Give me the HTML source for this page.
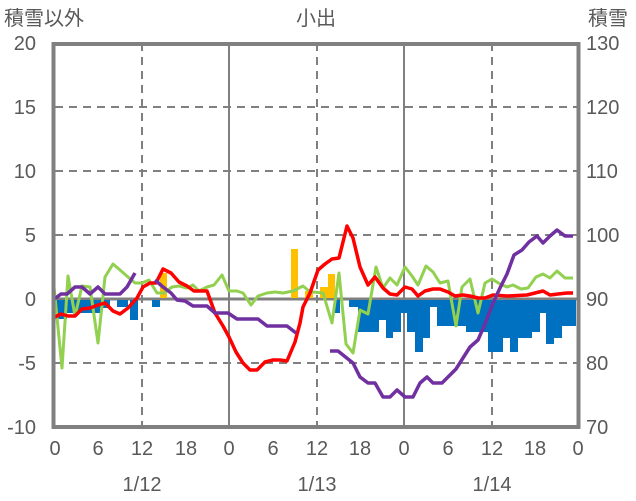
<!DOCTYPE html>
<html><head><meta charset="utf-8"><style>
body{margin:0;background:#fff}
svg{display:block}
text{font-family:"Liberation Sans","Noto Sans CJK JP",sans-serif;font-size:20px;fill:#595959}
</style></head><body>
<svg width="636" height="501" viewBox="0 0 636 501">
<g stroke="#808080" stroke-width="2" stroke-dasharray="8,6">
<line x1="55" y1="107" x2="578" y2="107"/><line x1="55" y1="171" x2="578" y2="171"/>
<line x1="55" y1="235" x2="578" y2="235"/><line x1="55" y1="363" x2="578" y2="363"/>
<line x1="142" y1="43" x2="142" y2="427"/><line x1="317" y1="43" x2="317" y2="427"/><line x1="492" y1="43" x2="492" y2="427"/>
</g>
<g stroke="#808080" stroke-width="2">
<line x1="229" y1="43" x2="229" y2="427"/><line x1="404" y1="43" x2="404" y2="427"/>
</g>
<line x1="55" y1="299" x2="578" y2="299" stroke="#808080" stroke-width="3"/>
<g fill="#0070C0">
<rect x="55" y="300" width="45" height="13"/><rect x="55" y="300" width="12" height="19"/><rect x="100" y="300" width="10" height="8"/>
<rect x="117" y="300" width="11" height="7"/><rect x="130" y="300" width="8" height="20"/><rect x="152" y="300" width="8" height="7"/>
<rect x="335" y="300" width="5" height="13"/><rect x="349" y="300" width="9" height="7"/><rect x="358" y="300" width="21" height="32"/>
<rect x="379" y="300" width="7" height="20"/><rect x="386" y="300" width="7" height="38"/><rect x="393" y="300" width="8" height="32"/>
<rect x="401" y="300" width="6" height="13"/><rect x="407" y="300" width="8" height="32"/><rect x="415" y="300" width="8" height="52"/>
<rect x="423" y="300" width="7" height="38"/><rect x="430" y="300" width="7" height="7"/><rect x="437" y="300" width="29" height="26"/>
<rect x="466" y="300" width="22" height="32"/><rect x="488" y="300" width="15" height="52"/><rect x="503" y="300" width="7" height="38"/>
<rect x="510" y="300" width="8" height="52"/><rect x="518" y="300" width="14" height="38"/><rect x="532" y="300" width="8" height="32"/>
<rect x="540" y="300" width="6" height="13"/><rect x="546" y="300" width="8" height="44"/><rect x="554" y="300" width="8" height="38"/>
<rect x="562" y="300" width="14" height="26"/>
</g>
<g fill="#FFC000">
<rect x="160" y="273" width="7" height="25"/><rect x="291" y="249" width="7" height="49"/><rect x="305" y="291" width="8" height="7"/>
<rect x="320" y="287" width="8" height="11"/><rect x="328" y="274" width="7" height="24"/>
</g>
<g fill="none" stroke-width="3.5" stroke-linejoin="round">
<polyline stroke="#92D050" stroke-width="3" points="53,277 62,368 68,276 75,316 82,286 90,287 98,343 105,277 113,264 120,270 128,277 135,283 142,283 149,280 157,293 164,293 172,287 179,286 187,288 193,285 199,291 207,287 214,285 222,275 229,291 237,291 243,293 251,305 258,296 267,293 275,292 283,293 293,291 303,286 309,291 313,292 323,293 332,323 339,273 346,344 353,353 360,310 368,314 376,267 383,288 390,278 397,285 405,267 412,276 418,285 426,266 433,272 440,283 448,281 456,326 462,287 470,279 478,313 485,283 492,279 500,284 507,287 513,285 521,289 528,288 536,277 543,274 550,278 557,271 565,278 573,278"/>
<polyline stroke="#FF0000" points="53,318 61,314 68,316 75,316 82,309 90,308 98,305 105,303 113,311 120,314 128,308 137,298 143,287 150,283 156,283 163,269 171,273 179,282 187,286 194,291 201,291 207,291 215,313 223,326 229,337 236,352 243,363 250,370 257,370 265,362 273,360 280,360 287,361 295,342 300,323 303,307 310,293 318,270 325,264 332,259 339,258 347,226 353,238 360,267 368,285 375,277 383,288 390,294 397,295 405,287 412,289 418,296 425,291 433,289 440,289 448,292 455,296 463,295 470,296 478,298 485,298 493,295 507,296 527,295 535,293 543,291 550,295 558,294 567,293 573,293"/>
<polyline stroke="#7030A0" points="53,300 61,294 67,294 75,287 82,287 90,294 98,287 105,294 120,294 127,287 135,273"/>
<polyline stroke="#7030A0" points="155,280 163,287 171,293 177,300 185,301 193,306 207,306 215,313 228,313 237,319 258,319 267,326 287,326 296,333"/>
<polyline stroke="#7030A0" points="330,351 338,351 353,363 360,377 368,383 375,383 383,397 390,397 397,390 405,397 413,397 420,383 427,377 433,383 442,383 448,377 456,369 463,358 470,347 478,340 485,324 493,303 500,288 507,274 514,255 522,250 529,242 537,236 543,243 550,236 557,230 565,236 573,236"/>
</g>
<rect x="53.5" y="44" width="525" height="383" fill="none" stroke="#808080" stroke-width="4"/>
<text x="4" y="25">積雪以外</text>
<text x="316" y="25" text-anchor="middle">小出</text>
<text x="588" y="25">積雪</text>
<g text-anchor="end">
<text x="36" y="50">20</text><text x="36" y="114">15</text><text x="36" y="178">10</text><text x="36" y="242">5</text>
<text x="36" y="306">0</text><text x="36" y="370">-5</text><text x="36" y="434">-10</text>
</g>
<g>
<text x="586" y="50">130</text><text x="586" y="114">120</text><text x="586" y="178">110</text><text x="586" y="242">100</text>
<text x="586" y="306">90</text><text x="586" y="370">80</text><text x="586" y="434">70</text>
</g>
<g text-anchor="middle">
<text x="55" y="455">0</text><text x="98" y="455">6</text><text x="142" y="455">12</text><text x="186" y="455">18</text>
<text x="229" y="455">0</text><text x="273" y="455">6</text><text x="317" y="455">12</text><text x="360" y="455">18</text>
<text x="404" y="455">0</text><text x="448" y="455">6</text><text x="492" y="455">12</text><text x="535" y="455">18</text><text x="578" y="455">0</text>
<text x="142" y="491">1/12</text><text x="317" y="491">1/13</text><text x="492" y="491">1/14</text>
</g>
</svg>
</body></html>
